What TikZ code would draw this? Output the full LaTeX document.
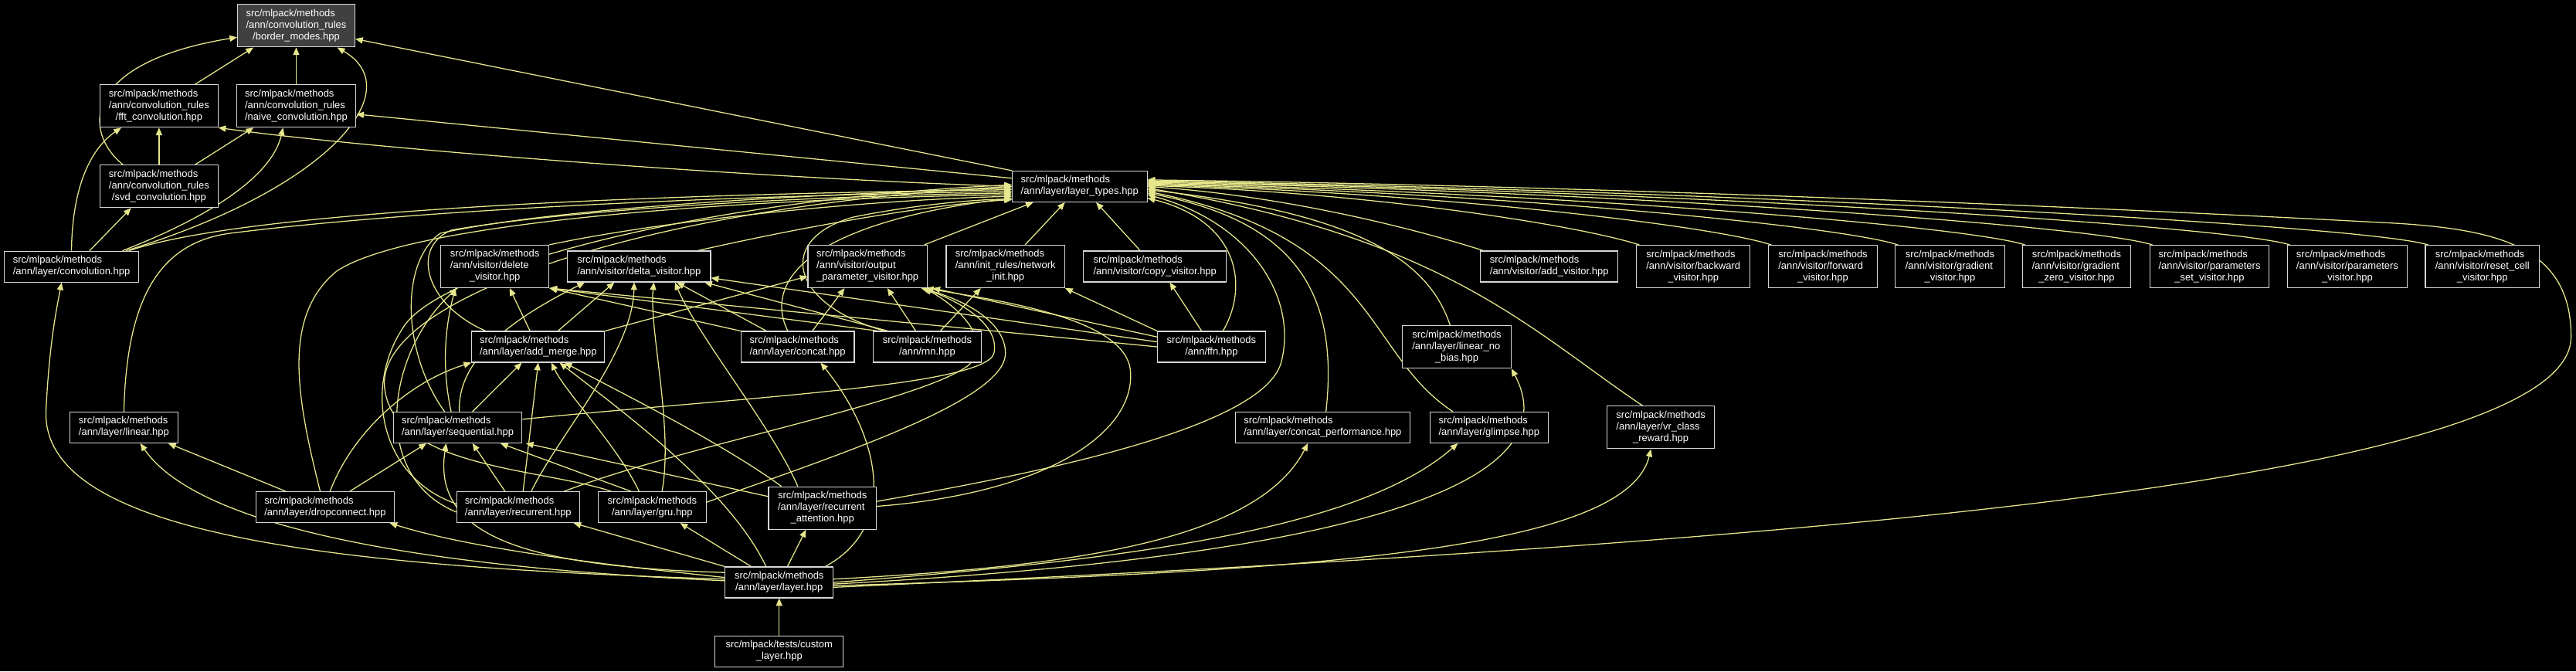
\documentclass[tikz,border=0pt]{standalone}
\usepackage{fontspec}
\setmainfont{Liberation Sans}
\usetikzlibrary{arrows.meta}
\definecolor{edgecol}{RGB}{230,230,140}
\definecolor{boxline}{RGB}{215,215,215}
\definecolor{bmfill}{RGB}{64,64,64}
\newcommand{\twol}[2]{\begin{tabular}{@{}l@{}}#1\\\multicolumn{1}{@{}c@{}}{#2}\end{tabular}}
\newcommand{\threel}[3]{\begin{tabular}{@{}l@{}}#1\\#2\\\multicolumn{1}{@{}c@{}}{#3}\end{tabular}}
\newcommand{\smm}{src/mlpack/methods}
\pgfdeclarelayer{back}
\pgfdeclarelayer{bg}
\pgfsetlayers{back,bg,main}
\begin{document}
\begin{tikzpicture}[x=1pt,y=-1pt,
  fnode/.style={draw=boxline, fill=black, text=white, line width=0.5pt, inner sep=0pt,
    font=\fontsize{6.1}{7.05}\selectfont},
  boxtwo/.style={fnode, minimum height=18.8pt},
  boxthree/.style={fnode, minimum height=25.9pt},
  edge/.style={draw=edgecol, line width=0.6pt, -{Triangle[length=4.6pt,width=3.8pt]}}]
\begin{pgfonlayer}{back}
\fill[black] (0,0) rectangle (1568,408.6);
\end{pgfonlayer}
\useasboundingbox (0,0) rectangle (1568,408.6);

% nodes
\node[boxthree, minimum width=71.4pt, fill=bmfill] (bm) at (180.3,15.7) {\threel{\smm}{/ann/convolution\_rules}{/border\_modes.hpp}};
\node[boxthree, minimum width=71.6pt] (fft) at (96.8,64.5) {\threel{\smm}{/ann/convolution\_rules}{/fft\_convolution.hpp}};
\node[boxthree, minimum width=72.6pt] (naive) at (180.3,64.5) {\threel{\smm}{/ann/convolution\_rules}{/naive\_convolution.hpp}};
\node[boxthree, minimum width=71.6pt] (svd) at (96.8,113.4) {\threel{\smm}{/ann/convolution\_rules}{/svd\_convolution.hpp}};
\node[boxtwo, minimum width=82.2pt] (conv) at (43.5,162.3) {\twol{\smm}{/ann/layer/convolution.hpp}};
\node[boxtwo, minimum width=82pt] (lt) at (657.2,113.5) {\twol{\smm}{/ann/layer/layer\_types.hpp}};
\node[boxthree, minimum width=65.9pt] (delete) at (301.2,162.2) {\threel{\smm}{/ann/visitor/delete}{\_visitor.hpp}};
\node[boxtwo, minimum width=87.1pt] (delta) at (389,162.2) {\twol{\smm}{/ann/visitor/delta\_visitor.hpp}};
\node[boxthree, minimum width=72.6pt] (output) at (528.1,162.2) {\threel{\smm}{/ann/visitor/output}{\_parameter\_visitor.hpp}};
\node[boxthree, minimum width=72.1pt] (netinit) at (612,162.2) {\threel{\smm}{/ann/init\_rules/network}{\_init.hpp}};
\node[boxtwo, minimum width=87.1pt] (copy) at (703,162.2) {\twol{\smm}{/ann/visitor/copy\_visitor.hpp}};
\node[boxtwo, minimum width=83.6pt] (addv) at (943,162.2) {\twol{\smm}{/ann/visitor/add\_visitor.hpp}};
\node[boxthree, minimum width=69pt] (backward) at (1030.7,162.3) {\threel{\smm}{/ann/visitor/backward}{\_visitor.hpp}};
\node[boxthree, minimum width=66.1pt] (forward) at (1109.6,162.3) {\threel{\smm}{/ann/visitor/forward}{\_visitor.hpp}};
\node[boxthree, minimum width=66.5pt] (gradient) at (1186.9,162.3) {\threel{\smm}{/ann/visitor/gradient}{\_visitor.hpp}};
\node[boxthree, minimum width=66.1pt] (gradzero) at (1264,162.3) {\threel{\smm}{/ann/visitor/gradient}{\_zero\_visitor.hpp}};
\node[boxthree, minimum width=72.8pt] (paramset) at (1344.9,162.3) {\threel{\smm}{/ann/visitor/parameters}{\_set\_visitor.hpp}};
\node[boxthree, minimum width=73.2pt] (params) at (1428.8,162.3) {\threel{\smm}{/ann/visitor/parameters}{\_visitor.hpp}};
\node[boxthree, minimum width=69.4pt] (resetcell) at (1511,162.3) {\threel{\smm}{/ann/visitor/reset\_cell}{\_visitor.hpp}};
\node[boxtwo, minimum width=80.9pt] (addmerge) at (327.6,211.1) {\twol{\smm}{/ann/layer/add\_merge.hpp}};
\node[boxtwo, minimum width=69pt] (concat) at (485.5,211.1) {\twol{\smm}{/ann/layer/concat.hpp}};
\node[boxtwo, minimum width=65.8pt] (rnn) at (564.4,211.1) {\twol{\smm}{/ann/rnn.hpp}};
\node[boxtwo, minimum width=65.7pt] (ffn) at (737.4,211.1) {\twol{\smm}{/ann/ffn.hpp}};
\node[boxthree, minimum width=66.1pt] (lnb) at (886.7,211.2) {\threel{\smm}{/ann/layer/linear\_no}{\_bias.hpp}};
\node[boxtwo, minimum width=65.6pt] (linear) at (75.4,260.2) {\twol{\smm}{/ann/layer/linear.hpp}};
\node[boxtwo, minimum width=78.4pt] (seq) at (278.6,260.2) {\twol{\smm}{/ann/layer/sequential.hpp}};
\node[boxtwo, minimum width=106.2pt] (cperf) at (805.1,260.2) {\twol{\smm}{/ann/layer/concat\_performance.hpp}};
\node[boxtwo, minimum width=72.1pt] (glimpse) at (906.4,260.2) {\twol{\smm}{/ann/layer/glimpse.hpp}};
\node[boxthree, minimum width=65.5pt] (vr) at (1010.9,260.2) {\threel{\smm}{/ann/layer/vr\_class}{\_reward.hpp}};
\node[boxtwo, minimum width=84pt] (drop) at (197.9,308.7) {\twol{\smm}{/ann/layer/dropconnect.hpp}};
\node[boxtwo, minimum width=74.8pt] (rec) at (315.4,308.7) {\twol{\smm}{/ann/layer/recurrent.hpp}};
\node[boxtwo, minimum width=65.8pt] (gru) at (397,308.7) {\twol{\smm}{/ann/layer/gru.hpp}};
\node[boxthree, minimum width=65.6pt] (ra) at (500.6,309.2) {\threel{\smm}{/ann/layer/recurrent}{\_attention.hpp}};
\node[boxtwo, minimum width=65.7pt] (layer) at (474.3,354.5) {\twol{\smm}{/ann/layer/layer.hpp}};
\node[boxtwo, minimum width=78.1pt] (custom) at (474.3,396.5) {\twol{src/mlpack/tests/custom}{\_layer.hpp}};

\begin{pgfonlayer}{bg}
% convolution rules cluster
\draw[edge] ([xshift=22pt]fft.north) -- ([xshift=-26pt]bm.south);
\draw[edge] (naive.north) -- (bm.south);
\draw[edge] (svd.north) -- (fft.south);
\draw[edge] ([xshift=22pt]svd.north) -- ([xshift=-26pt]naive.south);
\draw[edge] ([xshift=-22pt]svd.north) .. controls (50,80) and (50,38) .. ([yshift=-7pt]bm.west);
\draw[edge] (conv.north) .. controls (44,112) and (56,90) .. ([xshift=-23pt]fft.south);
\draw[edge] ([xshift=11pt]conv.north) -- ([xshift=-17pt]svd.south);
\draw[edge] ([xshift=33pt]conv.north) .. controls (200,115) and (250,55) .. ([xshift=25pt]bm.south);
\draw[edge] ([xshift=31pt]conv.north) .. controls (120,135) and (165,110) .. ([xshift=-8pt]naive.south);
\draw[edge] (lt.north west) -- ([yshift=-8pt]bm.east);
\draw[edge] ([yshift=5pt]lt.west) -- ([yshift=-5pt]naive.east);
\draw[edge] (lt.west) .. controls (450,108) and (220,90) .. (fft.south east);
% into layer_types from the left
\draw[edge] ([xshift=35pt]conv.north) .. controls (150,128) and (400,118) .. ([yshift=-2pt]lt.west);
\draw[edge] (linear.north) .. controls (77,185) and (95,148) .. (140,142) .. controls (260,127) and (450,119) .. ([yshift=-3pt]lt.west);
\draw[edge] (delete.north east) .. controls (400,135) and (520,122) .. ([yshift=-6pt]lt.west);
\draw[edge] ([xshift=-8pt]delta.north east) .. controls (480,140) and (560,125) .. ([yshift=-8pt]lt.west);
\draw[edge] ([xshift=-2pt]output.north east) -- ([xshift=13pt]lt.south west);
\draw[edge] ([xshift=12pt]netinit.north) -- ([xshift=-9pt]lt.south);
\draw[edge] ([xshift=-9pt]copy.north) -- ([xshift=10pt]lt.south);
\draw[edge] ([xshift=7pt]ffn.north) .. controls (760,175) and (755,135) .. ([yshift=-7pt]lt.east);
\draw[edge] ([xshift=-32pt]addmerge.north) .. controls (258,185) and (250,150) .. (275,140) .. controls (350,127) and (500,119) .. ([yshift=-4pt]lt.west);
% sequential
\draw[edge] ([xshift=-8pt]seq.north) .. controls (245,215) and (243,160) .. (268,142) .. controls (340,126) and (500,118) .. ([yshift=-1pt]lt.west);
\draw[edge] ([xshift=-4pt]seq.north) .. controls (268,220) and (272,195) .. ([xshift=-24pt]delete.south);
\draw[edge] ([xshift=1pt]seq.north) .. controls (278,215) and (320,190) .. ([xshift=-33pt]delta.south);
\draw[edge] ([xshift=9pt]seq.north) -- ([xshift=-10pt]addmerge.south);
\draw[edge] ([yshift=5pt]seq.east) .. controls (450,242) and (600,235) .. (605,215) .. controls (609,196) and (580,182) .. ([xshift=-3pt]output.south east);
% recurrent
\draw[edge] ([xshift=-8pt]rec.north) -- ([xshift=9pt]seq.south);
\draw[edge] ([xshift=3pt]rec.north) -- (addmerge.south);
\draw[edge] ([xshift=8pt]rec.north) .. controls (340,265) and (385,215) .. ([xshift=-3pt]delta.south);
\draw[edge] ([yshift=2pt]rec.west) .. controls (230,290) and (222,235) .. (245,200) .. controls (265,165) and (420,122) .. ([yshift=1pt]lt.west);
\draw[edge] ([yshift=-3pt]rec.west) .. controls (225,290) and (235,215) .. ([xshift=-23pt]delete.south);
\draw[edge] ([xshift=28pt]rec.north) .. controls (420,270) and (560,245) .. (590,222) .. controls (605,205) and (580,185) .. ([xshift=-2pt]output.south east);
% gru
\draw[edge] ([xshift=-13pt]gru.north) -- ([xshift=26pt]seq.south);
\draw[edge] ([xshift=-8pt]gru.north) .. controls (375,270) and (345,240) .. ([xshift=8pt]addmerge.south);
\draw[edge] ([xshift=6pt]gru.north) .. controls (410,260) and (395,200) .. ([xshift=9pt]delta.south);
\draw[edge] ([yshift=3pt]gru.east) .. controls (500,280) and (612,245) .. (612,215) .. controls (612,195) and (585,182) .. ([xshift=-4pt]output.south east);
\draw[edge] ([xshift=-25pt]gru.north) .. controls (330,285) and (238,285) .. (234,235) .. controls (230,180) and (400,125) .. (lt.west);
% recurrent attention
\draw[edge] ([yshift=7pt]ra.west) -- ([xshift=2pt]seq.south east);
\draw[edge] ([xshift=-25pt]ra.north) .. controls (440,270) and (380,240) .. ([xshift=16pt]addmerge.south);
\draw[edge] ([xshift=-15pt]ra.north) .. controls (470,260) and (425,205) .. ([xshift=-22pt]delta.south east);
\draw[edge] ([yshift=4pt]ra.east) .. controls (620,290) and (770,262) .. (780,220) .. controls (790,180) and (760,135) .. ([yshift=-5pt]lt.east);
\draw[edge] ([yshift=1pt]ra.east) .. controls (640,300) and (692,262) .. (688,225) .. controls (684,192) and (600,182) .. ([xshift=-1pt]output.south east);
% layer.hpp
\draw[edge] ([yshift=2pt]layer.west) .. controls (200,345) and (25,325) .. (28,250) .. controls (30,210) and (34,190) .. ([xshift=-6pt]conv.south);
\draw[edge] ([yshift=1pt]layer.west) .. controls (250,345) and (120,320) .. ([xshift=10pt]linear.south);
\draw[edge] ([yshift=3pt]layer.west) .. controls (380,345) and (290,335) .. ([xshift=-3pt]drop.south east);
\draw[edge] (layer.north west) -- ([xshift=-4pt]rec.south east);
\draw[edge] ([xshift=-17pt]layer.north) -- ([xshift=17pt]gru.south);
\draw[edge] ([xshift=5pt]layer.north) -- ([xshift=-10pt]ra.south);
\draw[edge] ([yshift=6pt]layer.west) .. controls (330,345) and (262,330) .. ([xshift=-7pt]seq.south);
\draw[edge] ([xshift=-8pt]layer.north) .. controls (445,300) and (385,255) .. ([xshift=13pt]addmerge.south);
\draw[edge] ([xshift=28pt]layer.north) .. controls (548,320) and (535,265) .. ([xshift=14pt]concat.south);
\draw[edge] ([yshift=2pt]layer.east) .. controls (650,345) and (765,330) .. ([xshift=-9pt]cperf.south);
\draw[edge] (layer.east) .. controls (700,340) and (830,320) .. ([xshift=-19pt]glimpse.south);
\draw[edge] ([yshift=-1pt]layer.east) .. controls (800,340) and (960,300) .. (lnb.south east);
\draw[edge] ([yshift=-2pt]layer.east) .. controls (800,348) and (990,335) .. ([xshift=-6pt]vr.south);
\draw[edge] ([yshift=-3pt]layer.east) .. controls (1000,335) and (1565,300) .. (1565,205) .. controls (1565,150) and (1520,140) .. (1460,136) .. controls (1200,122) and (900,112) .. ([yshift=4pt]lt.east);
\draw[edge] (custom.north) -- (layer.south);
% dropconnect
\draw[edge] ([xshift=-24pt]drop.north) -- ([xshift=-6pt]linear.south east);
\draw[edge] ([xshift=-3pt]drop.north) .. controls (180,240) and (172,192) .. (205,165) .. controls (250,135) and (450,121) .. ([yshift=-5pt]lt.west);
\draw[edge] ([xshift=3pt]drop.north) .. controls (215,262) and (250,232) .. (addmerge.south west);
\draw[edge] ([xshift=15pt]drop.north) -- ([xshift=-19pt]seq.south);
% concat
\draw[edge] (concat.north west) -- (delete.south east);
\draw[edge] ([xshift=-19pt]concat.north) -- ([xshift=23pt]delta.south);
\draw[edge] ([xshift=9pt]concat.north) -- ([xshift=-14pt]output.south);
\draw[edge] ([xshift=-6pt]concat.north) .. controls (465,172) and (490,136) .. ([yshift=-7pt]lt.west);
% rnn
\draw[edge] ([xshift=-30pt]rnn.north) -- (delete.south east);
\draw[edge] ([xshift=-24pt]rnn.north) -- ([xshift=-4pt]delta.south east);
\draw[edge] ([xshift=-7pt]rnn.north) -- ([xshift=12pt]output.south);
\draw[edge] ([xshift=8pt]rnn.north) -- ([xshift=-15pt]netinit.south);
\draw[edge] ([xshift=-26pt]rnn.north) .. controls (480,185) and (472,145) .. (520,132) .. controls (560,124) and (600,121) .. ([yshift=-8pt]lt.west);
% ffn
\draw[edge] ([xshift=-6pt]ffn.north) -- ([xshift=9pt]copy.south);
\draw[edge] (ffn.north west) -- (netinit.south east);
\draw[edge] ([yshift=6pt]ffn.west) -- ([xshift=3pt]output.south east);
\draw[edge] ([yshift=3pt]ffn.west) -- ([yshift=-7pt]delta.east);
\draw[edge] (ffn.west) -- (delete.south east);
% add_merge
\draw[edge] ([xshift=-5pt]addmerge.north) -- ([xshift=9pt]delete.south);
\draw[edge] ([xshift=12pt]addmerge.north) -- ([xshift=-15pt]delta.south);
\draw[edge] (addmerge.north east) -- ([yshift=-6pt]output.west);
% single includers of layer_types on the right
\draw[edge] ([xshift=2pt]cperf.north) .. controls (815,180) and (790,135) .. ([yshift=-4pt]lt.east);
\draw[edge] ([xshift=-22pt]glimpse.north) .. controls (830,215) and (840,145) .. ([yshift=-3pt]lt.east);
\draw[edge] ([xshift=-4pt]lnb.north) .. controls (870,160) and (830,130) .. ([yshift=-2pt]lt.east);
\draw[edge] ([xshift=-11pt]vr.north) .. controls (930,200) and (880,145) .. ([yshift=-1pt]lt.east);
\draw[edge] ([xshift=2pt]addv.north west) .. controls (870,142) and (790,120) .. (lt.east);
\draw[edge] ([xshift=2pt]backward.north west) .. controls (961,137) and (832,117) .. ([yshift=0.5pt]lt.east);
\draw[edge] ([xshift=2pt]forward.north west) .. controls (1042,137) and (868,117) .. ([yshift=1pt]lt.east);
\draw[edge] ([xshift=2pt]gradient.north west) .. controls (1119,137) and (903,117) .. ([yshift=1.5pt]lt.east);
\draw[edge] ([xshift=2pt]gradzero.north west) .. controls (1196,137) and (938,117) .. ([yshift=2pt]lt.east);
\draw[edge] ([xshift=2pt]paramset.north west) .. controls (1274,137) and (972,116) .. ([yshift=2.5pt]lt.east);
\draw[edge] ([xshift=2pt]params.north west) .. controls (1357,137) and (1010,116) .. ([yshift=3pt]lt.east);
\draw[edge] ([xshift=2pt]resetcell.north west) .. controls (1441,137) and (1048,116) .. ([yshift=3.5pt]lt.east);
\end{pgfonlayer}
\end{tikzpicture}
\end{document}
